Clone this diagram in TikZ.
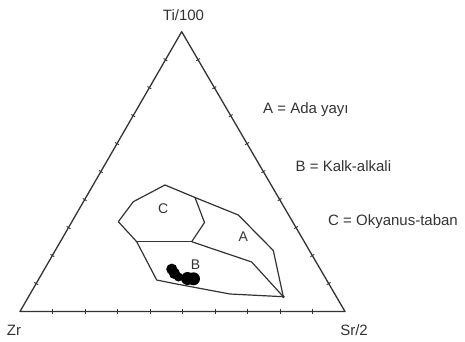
\documentclass[tikz,border=0pt]{standalone}
\usepackage{fontspec}
\setmainfont{Liberation Sans}
\usetikzlibrary{calc}
\definecolor{ink}{HTML}{333333}
\tikzset{
  frame/.style={draw=ink, line width=1.3pt, line join=round},
  field/.style={draw=ink, line width=1.2pt, line join=round},
  tick/.style={draw=ink, line width=0.9pt},
  lbl/.style={text=ink, inner sep=0pt, font=\fontsize{15}{18}\selectfont},
  fieldlbl/.style={text=ink, inner sep=0pt, font=\fontsize{14}{16}\selectfont},
  sample/.style={fill=black, draw=none}
}
\begin{document}
\begin{tikzpicture}[x=1pt,y=-1pt]
\useasboundingbox (0,0) rectangle (465,342);
% triangle vertices
\coordinate (T) at (181.7,31.7);
\coordinate (Z) at (20,311.5);
\coordinate (S) at (345,311.5);
\draw[frame] (T) -- (Z) -- (S) -- cycle;
% ticks
\foreach \a/\b in {Z/S,S/T,T/Z}{
  \foreach \i in {1,...,9}{
    \coordinate (p) at ($(\a)!\i/10!(\b)$);
    \draw[tick] ($(p)!2.2pt!90:(\b)$) -- ($(p)!2.2pt!-90:(\b)$);
  }
}
% corner labels
\node[lbl] (ti) at (183.5,15) {Ti/100};
\node[lbl] (zr) at (14,330) {Zr};
\node[lbl] (sr) at (354,330) {Sr/2};
% legend
\node[lbl, anchor=west] (la) at (263,110) {A = Ada yay\i};
\node[lbl, anchor=west] (lb) at (295.5,166.5) {B = Kalk-alkali};
\node[lbl, anchor=west] (lc) at (328,221.7) {C = Okyanus-taban};
% field points
\coordinate (c1) at (118.3,221.7);
\coordinate (c2) at (133.3,201.7);
\coordinate (c3) at (165,185);
\coordinate (j1) at (195,197.5);
\coordinate (a1) at (238.3,215);
\coordinate (a2) at (273.3,250.5);
\coordinate (r) at (283.3,296.7);
\coordinate (b1) at (230,294);
\coordinate (b2) at (174,283.5);
\coordinate (b3) at (156.7,280);
\coordinate (h1) at (136.7,241.7);
\coordinate (h2) at (191.7,241.7);
\coordinate (cr) at (204.5,222.5);
\coordinate (ab) at (251.7,262);
% outer envelope
\draw[field] (c1) -- (c2) -- (c3) -- (j1) -- (a1) -- (a2) -- (r) -- (b1) -- (b2) -- (b3) -- (h1) -- cycle;
% inner boundaries
\draw[field] (h1) -- (h2);
\draw[field] (j1) -- (cr) -- (h2);
\draw[field] (h2) -- (ab) -- (r);
\fill[ink] (r) circle (1.6pt);
% field labels
\node[fieldlbl] (fc) at (163.3,208.5) {C};
\node[fieldlbl] (fa) at (243.3,237) {A};
\node[fieldlbl] (fb) at (195.5,264.5) {B};
% samples
\foreach \x/\y/\r in {171.8/269.2/5.6, 174.5/273.5/5.6, 178.5/277/4.5, 187.5/278.5/6.5, 193.5/278.8/6.5}{
  \fill[sample] (\x,\y) circle (\r pt);
}
\end{tikzpicture}
\end{document}
